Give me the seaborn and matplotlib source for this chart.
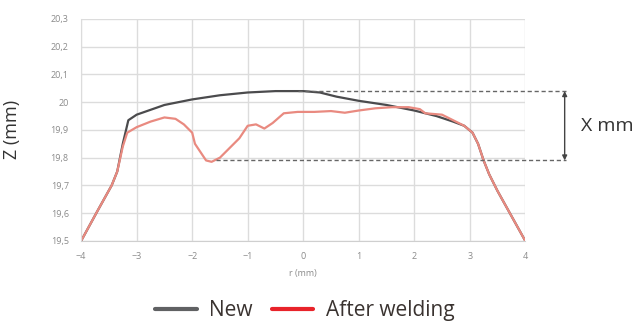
import seaborn as sns
import matplotlib.pyplot as plt
import matplotlib.ticker as mticker
from matplotlib.lines import Line2D
import pandas as pd

# Profil Z(r) - nowy i po spawaniu
r_new = [-4.0, -3.7, -3.45, -3.35, -3.25, -3.15, -3.0, -2.5, -2.0, -1.5, -1.0, -0.5,
         0.0, 0.3, 0.6, 1.0, 1.5, 2.0, 2.4, 2.7, 2.9, 3.05, 3.15, 3.25, 3.35, 3.5, 3.75, 4.0]
z_new = [19.5, 19.61, 19.70, 19.75, 19.85, 19.935, 19.955, 19.99, 20.01, 20.025, 20.035, 20.04,
         20.04, 20.035, 20.02, 20.005, 19.99, 19.97, 19.95, 19.93, 19.915, 19.89, 19.85, 19.79,
         19.74, 19.68, 19.59, 19.5]

r_weld = [-4.0, -3.7, -3.45, -3.35, -3.25, -3.17, -3.0, -2.75, -2.5, -2.3, -2.15, -2.0, -1.95,
          -1.85, -1.75, -1.65, -1.5, -1.3, -1.15, -1.0, -0.85, -0.7, -0.55, -0.35, -0.1, 0.2,
          0.5, 0.75, 1.0, 1.3, 1.6, 1.9, 2.1, 2.2, 2.5, 2.7, 2.9, 3.05, 3.15, 3.25, 3.35, 3.5,
          3.75, 4.0]
z_weld = [19.5, 19.61, 19.70, 19.75, 19.84, 19.89, 19.91, 19.93, 19.945, 19.94, 19.92, 19.89,
          19.85, 19.82, 19.79, 19.785, 19.80, 19.84, 19.87, 19.915, 19.92, 19.905, 19.925, 19.96,
          19.965, 19.965, 19.968, 19.962, 19.97, 19.978, 19.982, 19.982, 19.975, 19.96, 19.955,
          19.935, 19.915, 19.89, 19.85, 19.79, 19.74, 19.68, 19.59, 19.5]

series_names = ['New', 'After welding']
line_colors = ['#4b4b4d', '#e98a80']
legend_colors = ['#606163', '#e8232a']

z_top = 20.04   # poziom górnej linii przerywanej
z_low = 19.79   # poziom dolnej linii przerywanej

df = pd.concat([
    pd.DataFrame({'r': r_new, 'z': z_new, 'series': series_names[0]}),
    pd.DataFrame({'r': r_weld, 'z': z_weld, 'series': series_names[1]}),
])

sns.set_style('white')
plt.rcParams['font.family'] = ['Open Sans', 'DejaVu Sans']

fig = plt.figure(figsize=(6.39, 3.22), dpi=100)
ax = fig.add_axes([0.127, 0.252, 0.695, 0.689])

sns.lineplot(data=df, x='r', y='z', hue='series', palette=line_colors,
             sort=False, linewidth=1.6, legend=False, ax=ax)

ax.set_xlim(-4, 4)
ax.set_ylim(19.5, 20.3)
ax.set_xticks(range(-4, 5))
ax.set_yticks([19.5, 19.6, 19.7, 19.8, 19.9, 20.0, 20.1, 20.2, 20.3])
ax.yaxis.set_major_formatter(mticker.FuncFormatter(
    lambda v, p: ('%g' % round(v, 1)).replace('.', ',')))
ax.xaxis.set_minor_locator(mticker.MultipleLocator(0.5))
ax.grid(True, which='major', color='#dcdcdc', linewidth=1)
ax.tick_params(axis='both', which='major', labelsize=6.5, colors='#8a8a8a', length=0)
ax.tick_params(axis='y', which='major', pad=9)
ax.tick_params(axis='x', which='major', pad=8)
ax.tick_params(axis='x', which='minor', length=2, color='#dddddd')
for side in ['top', 'right']:
    ax.spines[side].set_visible(False)
ax.spines['left'].set_color('#dcdcdc')
ax.spines['bottom'].set_color('#cfcfcf')

ax.set_xlabel('r (mm)', fontsize=6.5, color='#8a8a8a', labelpad=6)
ax.set_ylabel('Z (mm)', fontsize=13, color='#333333')
ax.yaxis.set_label_coords(-0.135, 0.5)

# linie przerywane i strzałka wymiaru
ax.plot([-0.1, 4.73], [z_top, z_top], ls=(0, (3, 2)), color='#666666', lw=1, clip_on=False)
ax.plot([-1.57, 4.73], [z_low, z_low], ls=(0, (3, 2)), color='#666666', lw=1, clip_on=False)
ax.annotate('', xy=(4.71, z_top), xytext=(4.71, z_low), annotation_clip=False,
            arrowprops=dict(arrowstyle='<|-|>', color='#444444', lw=1,
                            mutation_scale=7, shrinkA=0, shrinkB=0))
ax.text(5.0, (z_top + z_low) / 2, 'X mm', fontsize=14, color='#333333',
        va='center', ha='left', clip_on=False)

handles = [Line2D([0], [0], color=c, lw=3) for c in legend_colors]
fig.legend(handles, series_names, loc='center', bbox_to_anchor=(0.477, 0.035),
           ncol=2, frameon=False, fontsize=15, handlelength=2.0, handletextpad=0.6,
           columnspacing=0.9, labelcolor='#3a3330')

fig.savefig('out.png', dpi=100)
